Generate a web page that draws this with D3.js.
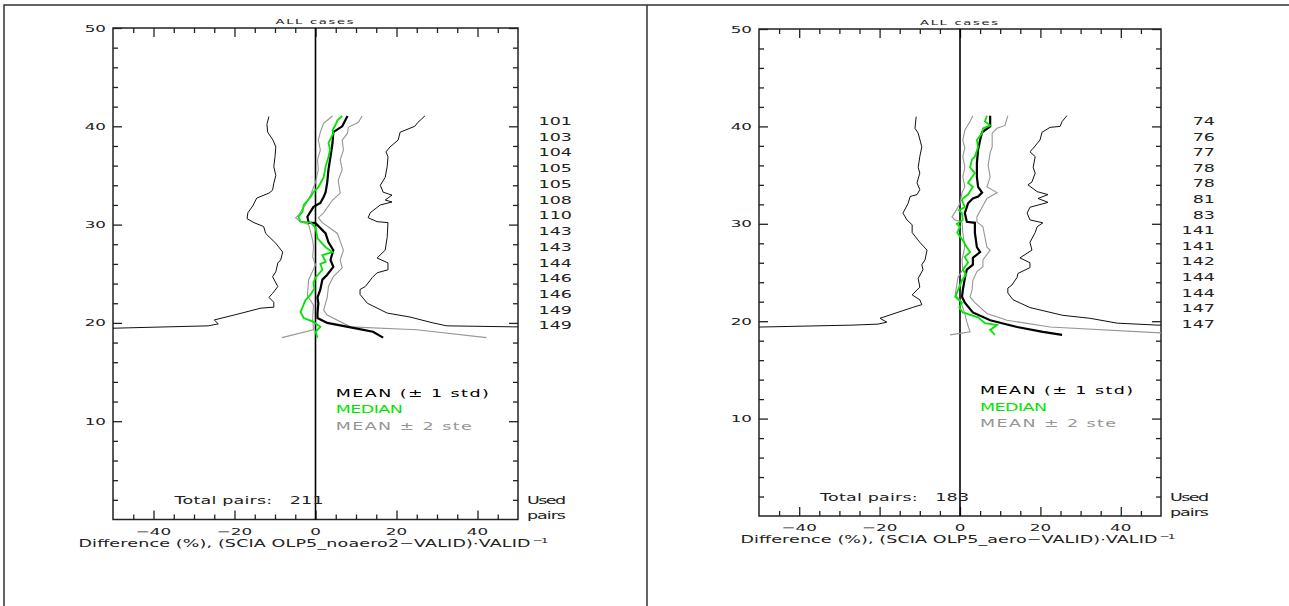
<!DOCTYPE html>
<html><head><meta charset="utf-8">
<script src="https://cdn.jsdelivr.net/npm/d3@7"></script>
<style>body{margin:0;background:#fff}svg{display:block}</style>
</head><body>
<svg id="c" width="1289" height="606"></svg>
<script>
// ---------- DATA (altitude km, difference %) ----------
const xTicks = [-40, -20, 0, 20, 40];
const yTicks = [10, 20, 30, 40, 50];
const legendLabels = ["MEAN (\u00b1 1 std)", "MEDIAN", "MEAN \u00b1 2 ste"];
const titleText = "ALL cases";

// Left panel (OLP5_noaero2)
const L_pairs = [101,103,104,105,105,108,110,143,143,144,146,146,149,149];
const L_total = 211;
const L_stdLow = [[41.0,-11.5],[40.2,-12.0],[39.4,-11.8],[38.6,-10.5],[37.9,-9.8],[36.9,-10.0],[35.9,-10.3],[35.0,-9.8],[34.2,-10.3],[33.5,-10.6],[33.2,-11.5],[32.7,-14.5],[31.9,-15.5],[31.2,-16.7],[30.6,-16.9],[30.2,-15.2],[29.8,-12.8],[29.1,-12.3],[28.1,-9.8],[27.2,-8.1],[26.4,-8.6],[26.1,-9.3],[25.2,-9.8],[24.7,-10.6],[23.7,-9.3],[23.0,-10.6],[22.6,-11.5],[22.1,-10.3],[21.6,-10.3],[21.5,-13.5],[20.8,-20.1],[20.3,-25.0],[19.9,-24.0],[19.7,-26.5],[19.5,-46.1],[19.35,-60]];
const L_stdHigh = [[41.05,27.0],[40.4,25.3],[40.0,24.5],[39.4,20.9],[38.6,20.4],[37.9,18.4],[37.4,17.4],[36.9,17.9],[35.9,17.7],[34.8,17.2],[34.0,16.0],[33.3,16.7],[33.0,18.9],[32.5,17.2],[32.3,18.9],[32.0,16.0],[31.2,13.5],[30.7,13.0],[30.3,15.2],[30.2,17.9],[28.7,17.7],[27.4,17.2],[26.6,15.2],[26.1,17.9],[25.4,17.9],[25.1,15.2],[24.6,14.0],[23.7,12.3],[23.4,11.0],[22.9,11.0],[22.0,12.8],[21.0,17.7],[20.6,23.3],[20.0,29.0],[19.7,32.4],[19.6,48.6],[19.55,60]];
const L_mean = [[41.05,7.9],[40.0,6.6],[39.4,4.4],[38.3,4.2],[36.9,3.7],[35.6,3.2],[34.3,2.9],[33.3,2.5],[32.8,2.0],[32.2,1.2],[31.8,-0.5],[30.8,-2.0],[30.2,-1.7],[30.15,0],[29.1,2.5],[28.2,3.2],[27.4,4.4],[26.4,3.7],[25.7,4.4],[24.9,2.9],[24.4,1.7],[23.4,1.2],[22.6,0.5],[22.0,0.7],[21.0,0.5],[20.5,0.5],[20.0,2.9],[19.5,9.3],[19.1,14.2],[18.5,16.7]];
const L_median = [[41.05,6.6],[40.6,5.4],[40.1,4.9],[39.6,4.2],[39.3,4.4],[38.3,3.2],[37.6,3.6],[36.9,3.2],[35.9,2.5],[34.8,2.0],[33.8,0.7],[33.3,-0.5],[32.8,-1.2],[32.0,-2.9],[31.3,-3.2],[30.8,-4.2],[30.3,-3.7],[30.2,-1.2],[29.7,0],[28.6,0.5],[27.7,2.5],[27.2,4.2],[26.9,1.7],[26.2,2.5],[26.0,1.2],[25.4,1.7],[24.6,0],[24.1,-0.5],[23.5,-0.3],[22.9,-1.2],[22.3,-2.5],[21.1,-3.7],[20.5,-2.9],[20.1,-0.5],[19.6,1.2],[19.1,0],[18.5,0.5]];
const L_steLow = [[41.05,4.2],[40.3,2.0],[39.4,1.2],[38.6,0.7],[37.6,1.2],[36.6,0.5],[35.6,0.7],[34.3,0],[33.8,-0.5],[33.0,-1.2],[32.0,-2.5],[31.0,-4.2],[30.7,-4.9],[30.3,-3.7],[30.0,-1.7],[28.4,-0.7],[27.7,-0.5],[26.7,-0.7],[25.9,0],[24.4,-1.7],[22.8,-2.0],[21.8,-0.5],[20.5,-0.7],[19.3,-0.5],[18.5,-8.3]];
const L_steHigh = [[41.05,11.5],[40.4,10.6],[39.9,8.1],[39.3,7.9],[38.6,6.6],[37.6,6.9],[36.6,6.1],[35.6,6.6],[34.5,5.6],[33.2,6.1],[32.5,4.2],[31.2,2.0],[30.7,0.7],[30.2,1.7],[29.1,5.4],[27.4,6.9],[26.4,6.1],[25.6,6.6],[24.7,4.4],[23.7,3.2],[22.6,2.9],[21.3,2.0],[20.8,2.9],[19.6,8.6],[19.3,25.0],[18.5,42.2]];

// Right panel (OLP5_aero)
const R_pairs = [74,76,77,78,78,81,83,141,141,142,144,144,147,147];
const R_total = 183;
const R_stdLow = [[41.0,-10.9],[39.8,-11.2],[39.3,-10.4],[37.9,-9.5],[36.9,-10.0],[35.8,-10.4],[35.2,-10.0],[34.2,-10.7],[33.5,-10.0],[33.0,-10.7],[32.8,-12.4],[32.1,-12.9],[31.1,-14.2],[30.4,-13.2],[29.9,-11.9],[29.1,-11.9],[28.1,-10.0],[27.3,-8.2],[26.3,-8.7],[25.8,-9.5],[25.3,-9.2],[24.4,-10.4],[23.5,-10.0],[22.7,-11.9],[22.2,-10.0],[21.7,-9.5],[21.4,-11.9],[20.3,-19.9],[19.9,-18.2],[19.7,-20.4],[19.6,-26.6],[19.4,-49.8],[19.35,-60]];
const R_stdHigh = [[41.1,26.6],[40.5,25.4],[40.0,24.9],[39.9,22.4],[39.4,20.4],[38.6,19.9],[37.6,17.9],[37.4,17.4],[36.9,18.7],[35.8,18.2],[35.2,18.7],[34.3,17.9],[34.0,16.9],[33.3,19.2],[33.0,21.9],[32.6,19.4],[32.2,21.9],[31.7,17.4],[31.1,16.7],[30.4,17.4],[30.1,20.6],[29.7,19.2],[29.1,18.7],[28.1,17.4],[27.3,17.9],[26.5,14.9],[26.0,17.4],[25.5,17.4],[24.9,14.4],[24.5,14.2],[23.7,12.9],[23.4,11.9],[22.9,11.9],[22.2,13.2],[21.4,17.4],[20.6,25.6],[20.3,32.3],[19.8,39.1],[19.6,49.0],[19.55,60]];
const R_mean = [[41.1,7.5],[40.0,7.5],[39.4,5.5],[38.6,5.0],[37.6,4.5],[36.2,4.2],[34.8,4.2],[33.8,4.5],[33.2,5.5],[32.8,4.5],[32.6,3.2],[32.1,2.0],[31.1,1.2],[30.2,1.7],[30.1,3.7],[29.1,3.7],[27.6,4.2],[27.1,5.0],[26.5,3.2],[25.8,3.2],[25.3,1.7],[24.4,1.2],[23.2,0.7],[22.5,0.5],[21.9,1.2],[20.9,3.2],[20.1,7.5],[19.4,14.2],[18.9,20.6],[18.6,25.4]];
const R_median = [[41.1,6.7],[40.5,6.2],[40.1,7.5],[39.8,5.7],[39.3,5.5],[38.6,4.2],[37.9,4.5],[36.9,3.7],[36.6,3.0],[35.8,2.5],[35.2,3.7],[34.8,3.0],[34.2,2.0],[33.8,3.2],[33.0,2.0],[32.6,0.7],[32.4,0.5],[31.7,1.2],[31.4,-0.3],[31.1,0.5],[30.4,0.7],[30.0,-0.8],[29.7,0],[29.1,-0.7],[28.3,0.7],[27.6,1.7],[27.1,2.5],[26.6,1.2],[26.0,2.0],[25.3,0.7],[24.8,1.5],[24.2,0.5],[23.2,-0.5],[22.5,-1.2],[21.9,0.5],[21.4,-0.2],[20.9,0.7],[20.4,4.5],[19.8,6.2],[19.6,9.2],[19.1,7.5],[18.6,8.7]];
const R_steLow = [[41.1,3.2],[40.5,2.5],[39.6,1.2],[38.6,0.7],[37.8,1.2],[36.9,0.7],[35.8,1.2],[34.8,0.7],[33.8,1.2],[33.2,0.5],[32.1,0],[31.2,-1.2],[30.7,-2.0],[30.4,-1.2],[30.2,0.5],[29.1,0.7],[27.6,1.2],[26.3,0.5],[25.3,0.7],[24.5,-0.5],[22.7,-1.2],[22.2,0],[20.8,1.2],[19.9,1.7],[18.9,2.5],[18.6,-2.5]];
const R_steHigh = [[41.1,11.9],[40.1,11.2],[39.8,9.2],[39.3,8.0],[37.9,8.0],[37.3,7.5],[36.0,7.0],[34.8,7.5],[33.8,6.7],[33.2,9.2],[32.6,6.7],[31.7,5.5],[30.7,4.2],[30.2,4.2],[29.7,5.7],[27.6,6.7],[27.3,7.5],[26.3,5.7],[25.6,5.7],[25.1,4.2],[24.2,3.2],[23.2,3.0],[22.5,2.5],[21.9,3.7],[20.8,6.7],[20.1,11.7],[19.4,22.4],[18.8,49.8],[18.78,60]];

// ---------- LAYOUT ----------
const panels = [
  {key:"L", x0:113, x1:518, y0:28, y1:519.5, xlabel:"Difference (%), (SCIA OLP5_noaero2\u2212VALID)\u00b7VALID", xlabelW:452,
   pairs:L_pairs, total:L_total, stdLow:L_stdLow, stdHigh:L_stdHigh, mean:L_mean, median:L_median, steLow:L_steLow, steHigh:L_steHigh},
  {key:"R", x0:759, x1:1161, y0:29, y1:516, xlabel:"Difference (%), (SCIA OLP5_aero\u2212VALID)\u00b7VALID", xlabelW:417,
   pairs:R_pairs, total:R_total, stdLow:R_stdLow, stdHigh:R_stdHigh, mean:R_mean, median:R_median, steLow:R_steLow, steHigh:R_steHigh}
];
const FONT = "DejaVu Sans";
const INK = "#222";
const GREEN = "#00e600";
const GRAY = "#969696";

const svg = d3.select("#c");
svg.append("rect").attr("width",1289).attr("height",606).attr("fill","#fff");
svg.append("path").attr("d","M4,606V5H1289M647,5V606").attr("fill","none").attr("stroke","#333").attr("stroke-width",1.5);

function txt(g, str, x, y, o = {}) {
  const sx = o.sx || 1.75, size = o.size || 10;
  const t = g.append("text")
    .attr("transform", `translate(${x},${y}) scale(${sx},1)`)
    .attr("font-family", FONT).attr("font-size", size)
    .attr("fill", o.fill || INK).attr("text-anchor", o.anchor || "start")
    .style("white-space", "pre").text(str);
  if (o.w) t.attr("textLength", o.w / sx).attr("lengthAdjust", "spacing");
  return t;
}

panels.forEach(p => {
  const x = d3.scaleLinear().domain([-50, 50]).range([p.x0, p.x1]);
  const y = d3.scaleLinear().domain([0, 50]).range([p.y1, p.y0]);
  const g = svg.append("g");
  const clipId = "clip" + p.key;
  svg.append("clipPath").attr("id", clipId).append("rect")
    .attr("x", p.x0).attr("y", p.y0).attr("width", p.x1 - p.x0).attr("height", p.y1 - p.y0);

  // axes (ticks inward)
  const minorX = d3.range(-45, 50, 5).filter(v => v % 20 !== 0);
  const minorY = d3.range(2, 50, 2).filter(v => v % 10 !== 0);
  const mk = (axis, tr) => {
    const a = g.append("g").attr("transform", tr).call(axis);
    a.select(".domain").remove();
    a.selectAll("line").attr("stroke", INK).attr("stroke-width", 1.3);
  };
  mk(d3.axisBottom(x).tickValues(xTicks).tickSize(-9).tickFormat(""), `translate(0,${p.y1})`);
  mk(d3.axisBottom(x).tickValues(minorX).tickSize(-5).tickFormat(""), `translate(0,${p.y1})`);
  mk(d3.axisTop(x).tickValues(xTicks).tickSize(-9).tickFormat(""), `translate(0,${p.y0})`);
  mk(d3.axisTop(x).tickValues(minorX).tickSize(-5).tickFormat(""), `translate(0,${p.y0})`);
  mk(d3.axisLeft(y).tickValues(yTicks).tickSize(-9).tickFormat(""), `translate(${p.x0},0)`);
  mk(d3.axisLeft(y).tickValues(minorY).tickSize(-5).tickFormat(""), `translate(${p.x0},0)`);
  mk(d3.axisRight(y).tickValues(yTicks).tickSize(-9).tickFormat(""), `translate(${p.x1},0)`);
  mk(d3.axisRight(y).tickValues(minorY).tickSize(-5).tickFormat(""), `translate(${p.x1},0)`);

  g.append("rect").attr("x", p.x0).attr("y", p.y0).attr("width", p.x1 - p.x0).attr("height", p.y1 - p.y0)
    .attr("fill", "none").attr("stroke", INK).attr("stroke-width", 1.5);

  // zero line
  g.append("line").attr("x1", x(0)).attr("x2", x(0)).attr("y1", p.y0).attr("y2", p.y1)
    .attr("stroke", "#000").attr("stroke-width", 1.6);

  // tick labels
  const fmt = d3.format("d");
  xTicks.forEach(v => txt(g, fmt(v).replace("-", "\u2212"), x(v), p.y1 + 15, {anchor: "middle", size: 9.6}));
  yTicks.forEach(v => txt(g, fmt(v), p.x0 - 7, y(v) + 3.5, {anchor: "end", size: 9.6}));

  // title
  txt(g, titleText, (p.x0 + p.x1) / 2 - 1, p.y0 - 4, {anchor: "middle", size: 7.5, w: 78});

  // x label with superscript
  const total = p.xlabelW + 20;
  const xs = (p.x0 + p.x1) / 2 - 1 - total / 2;
  txt(g, p.xlabel, xs, p.y1 + 27.3, {size: 10, w: p.xlabelW});
  txt(g, "\u22121", xs + p.xlabelW + 2, p.y1 + 23, {size: 7, w: 16});

  // profiles
  const line = d3.line().x(d => x(d[1])).y(d => y(d[0]));
  const lg = g.append("g").attr("clip-path", `url(#${clipId})`).attr("fill", "none");
  [p.stdLow, p.stdHigh].forEach(s => lg.append("path").attr("d", line(s)).attr("stroke", "#111").attr("stroke-width", 1));
  [p.steLow, p.steHigh].forEach(s => lg.append("path").attr("d", line(s)).attr("stroke", GRAY).attr("stroke-width", 1.1));
  lg.append("path").attr("d", line(p.mean)).attr("stroke", "#000").attr("stroke-width", 2.2);
  lg.append("path").attr("d", line(p.median)).attr("stroke", GREEN).attr("stroke-width", 1.8);

  // legend
  const legW = [153, 67, 136];
  const legC = ["#000", GREEN, GRAY];
  const legAlt = [12.85, 11.18, 9.51];
  legendLabels.forEach((s, i) => txt(g, s, x(5), y(legAlt[i]) + 3.6, {size: 10, fill: legC[i], w: legW[i]}));

  // used pairs column
  p.pairs.forEach((n, i) => txt(g, String(n), p.x1 + 54, y(40.5 - 1.6 * i) + 3.6, {anchor: "end", size: 10}));
  txt(g, "Used", p.x1 + 9, y(1.58), {size: 10, w: 39});
  txt(g, "pairs", p.x1 + 9, y(0.03), {size: 10, w: 39});

  // total pairs
  txt(g, "Total pairs:   " + p.total, x(-34.8), y(1.58), {size: 10, w: 149});
});
</script>
</body></html>
